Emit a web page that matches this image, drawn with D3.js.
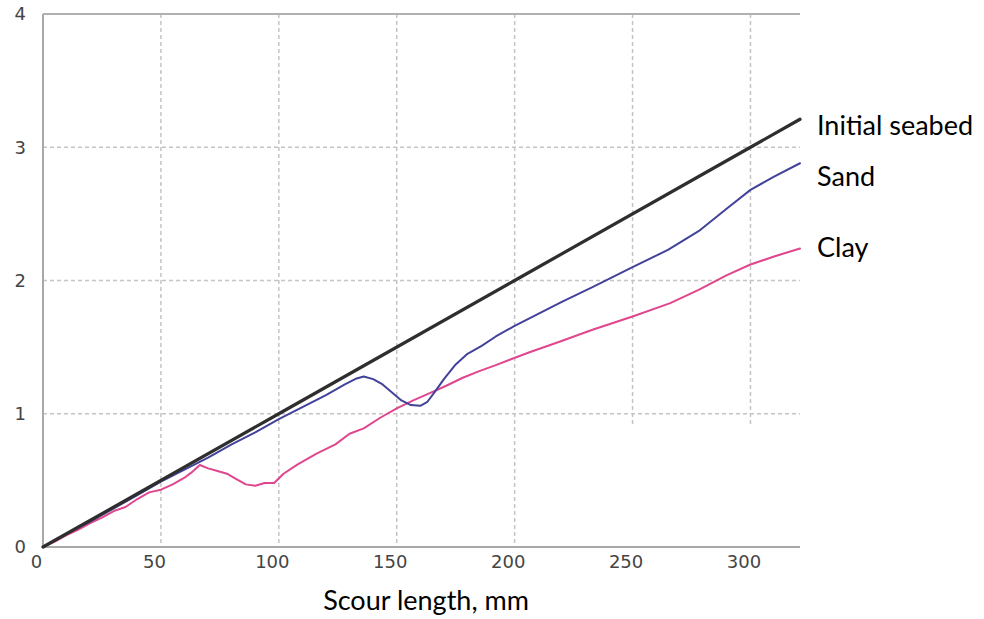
<!DOCTYPE html>
<html><head><meta charset="utf-8">
<script src="https://cdn.jsdelivr.net/npm/d3@7"></script>
<style>body{margin:0;background:#fff}svg{display:block}</style>
</head><body>
<svg id="c" width="984" height="619"></svg>
<script>
const xTicks = [0, 50, 100, 150, 200, 250, 300];
const yTicks = [0, 1, 2, 3, 4];
const seriesNames = ["Initial seabed", "Sand", "Clay"];

const seabedX = [0, 100, 200, 300, 321];
const seabedY = [0, 1.0, 2.0, 3.0, 3.21];

const sandX = [0,10,20,30,40,50,60,70,80,90,100,110,120,128,133,136,140,144,148,152,156,160,163,166,170,175,180,186,192,200,210,220,233,250,265,278,290,300,310,321];
const sandY = [0,0.10,0.19,0.29,0.39,0.49,0.58,0.67,0.77,0.86,0.96,1.05,1.14,1.22,1.265,1.28,1.26,1.22,1.16,1.10,1.065,1.06,1.09,1.16,1.26,1.37,1.45,1.51,1.58,1.66,1.75,1.84,1.95,2.10,2.23,2.37,2.54,2.68,2.78,2.88];

const clayX = [0,5,10,15,20,25,30,35,40,45,50,55,60,63,66.5,70,74,78,82,86,90,94,98,102,108,116,124,130,136,143,150,157,164,171,178,185,192,206,219,233,250,266,278,290,300,310,321];
const clayY = [0,0.04,0.09,0.13,0.18,0.22,0.27,0.30,0.36,0.41,0.43,0.47,0.52,0.56,0.615,0.59,0.57,0.55,0.51,0.47,0.46,0.48,0.48,0.55,0.62,0.70,0.77,0.85,0.89,0.97,1.04,1.10,1.155,1.21,1.27,1.32,1.365,1.46,1.54,1.63,1.73,1.83,1.93,2.04,2.12,2.18,2.24];

const colors = ["#2e2e2e", "#42429a", "#e0468e"];
const widths = [3.2, 2, 2];

const svg = d3.select("#c");
const x = d3.scaleLinear().domain([0, 321]).range([43, 800]);
const y = d3.scaleLinear().domain([0, 4]).range([547, 14]);

// grid
const g = svg.append("g");
xTicks.filter(t => t > 0).forEach(t => {
  g.append("line").attr("x1", x(t)).attr("x2", x(t))
    .attr("y1", y(4)).attr("y2", t >= 250 ? y(0.9) : y(0))
    .attr("stroke", "#c4c4c4").attr("stroke-width", 1.5).attr("stroke-dasharray", "4,3");
});
yTicks.filter(t => t > 0 && t < 4).forEach(t => {
  g.append("line").attr("x1", x(0)).attr("x2", x(321))
    .attr("y1", y(t)).attr("y2", y(t))
    .attr("stroke", "#c4c4c4").attr("stroke-width", 1.5).attr("stroke-dasharray", "4,3");
});
// frame: left, bottom, top
g.append("line").attr("x1", x(0)).attr("x2", x(0)).attr("y1", y(4)).attr("y2", y(0)).attr("stroke", "#a8a8a8").attr("stroke-width", 2);
g.append("line").attr("x1", x(0)).attr("x2", x(321)).attr("y1", y(0)).attr("y2", y(0)).attr("stroke", "#a8a8a8").attr("stroke-width", 2);
g.append("line").attr("x1", x(0)).attr("x2", x(321)).attr("y1", y(4)).attr("y2", y(4)).attr("stroke", "#b0b0b0").attr("stroke-width", 2);

// axes labels
const xa = d3.axisBottom(x).tickValues(xTicks).tickSize(0).tickFormat(d3.format("d"));
const xg = svg.append("g").attr("transform", `translate(-7,${y(0)+5})`).call(xa);
xg.select(".domain").remove();
xg.selectAll("text").attr("font-family", "DejaVu Sans, Verdana, sans-serif").attr("font-size", 18).attr("fill", "#444");

const ya = d3.axisLeft(y).tickValues(yTicks).tickSize(0).tickFormat(d3.format("d"));
const yg = svg.append("g").attr("transform", `translate(${x(0)-14},0)`).call(ya);
yg.select(".domain").remove();
yg.selectAll("text").attr("font-family", "DejaVu Sans, Verdana, sans-serif").attr("font-size", 18).attr("fill", "#444");

// lines
const line = d3.line().x(d => x(d[0])).y(d => y(d[1]));
const data = [
  d3.zip(seabedX, seabedY),
  d3.zip(sandX, sandY),
  d3.zip(clayX, clayY)
];
[2, 1, 0].forEach(i => {
  svg.append("path").datum(data[i]).attr("d", line)
    .attr("fill", "none").attr("stroke", colors[i]).attr("stroke-width", widths[i])
    .attr("stroke-linejoin", "round").attr("stroke-linecap", "round");
});

// series labels
const labelY = [135, 186, 257];
seriesNames.forEach((n, i) => {
  svg.append("text").attr("x", 817).attr("y", labelY[i]).text(n)
    .attr("font-family", "Lato, 'Open Sans', sans-serif").attr("font-size", 27)
    .attr("fill", "#000");
});

svg.append("text").attr("x", 426).attr("y", 610).attr("text-anchor", "middle")
  .text("Scour length, mm")
  .attr("font-family", "Lato, 'Open Sans', sans-serif").attr("font-size", 27).attr("fill", "#000");
</script>
</body></html>
